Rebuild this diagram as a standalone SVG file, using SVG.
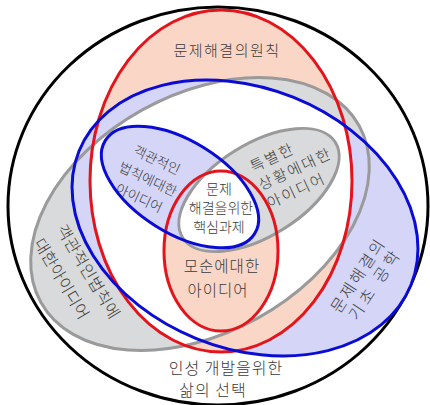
<svg xmlns="http://www.w3.org/2000/svg" width="430" height="405" viewBox="0 0 430 405">
<style>
.t{font-family:"Noto Sans CJK KR","Noto Sans CJK SC",sans-serif;font-weight:300;fill:#3a3a3a}
.red{fill:none;stroke:#e3141b;stroke-width:3}
.blue{fill:none;stroke:#0b0bd6;stroke-width:3}
.gray{fill:none;stroke:#9a9a9a;stroke-width:3}
.pe{fill:#fad6c6}.la{fill:#d5d5f7}.gr{fill:#d9dadb}.wh{fill:#fff}
</style>
<defs>
<ellipse id="eR" cx="221" cy="181" rx="131" ry="171"/>
<ellipse id="eB" cx="245" cy="218" rx="179" ry="130" transform="rotate(22 245 218)"/>
<ellipse id="eG" cx="200" cy="214" rx="182" ry="119" transform="rotate(-29 200 214)"/>
<ellipse id="sB" cx="180" cy="187" rx="88" ry="46" transform="rotate(32 180 187)"/>
<ellipse id="sG" cx="259" cy="190" rx="90" ry="46" transform="rotate(-32 259 190)"/>
<ellipse id="sR" cx="221" cy="251" rx="57" ry="80"/>
<clipPath id="cR"><ellipse cx="221" cy="181" rx="131" ry="171"/></clipPath>
<clipPath id="cB"><ellipse cx="245" cy="218" rx="179" ry="130" transform="rotate(22 245 218)"/></clipPath>
<clipPath id="cLow"><rect x="0" y="200" width="430" height="205"/></clipPath>
<clipPath id="cSB"><ellipse cx="180" cy="187" rx="88" ry="46" transform="rotate(32 180 187)"/></clipPath>
</defs>
<rect width="430" height="405" fill="#fff"/>
<g id="outer">
<ellipse cx="218" cy="206" rx="210" ry="199" fill="#fff" stroke="#000" stroke-width="3"/>
</g>
<g id="fills">
<use href="#eR" class="pe"/>
<use href="#eG" class="gr"/>
<use href="#eB" class="la"/>
<g clip-path="url(#cB)"><g clip-path="url(#cLow)"><use href="#eR" class="pe"/></g></g>
<g clip-path="url(#cR)"><g clip-path="url(#cB)"><use href="#eG" class="wh"/></g></g>
<g clip-path="url(#cR)"><g clip-path="url(#cLow)"><use href="#eG" class="wh"/></g></g>
<use href="#sR" class="pe"/>
<use href="#sG" class="gr"/>
<use href="#sB" class="la"/>
<g clip-path="url(#cSB)"><use href="#sG" class="wh"/></g>
</g>
<g id="connectors"></g>
<g id="big-gray">
<use href="#eG" class="gray"/>
<text class="t" font-size="16" letter-spacing="0.5" transform="translate(61,226) rotate(59)"><tspan x="0" y="6">객관적인법칙에</tspan><tspan x="0" y="32.5">대한아이디어</tspan></text>
</g>
<g id="big-red">
<use href="#eR" class="red"/>
<text class="t" font-size="15" letter-spacing="1.5" x="227" y="56" text-anchor="middle">문제해결의원칙</text>
</g>
<g id="big-blue">
<use href="#eB" class="blue"/>
<text class="t" font-size="16" letter-spacing="2.5" text-anchor="middle" transform="translate(358,275) rotate(-56.7)"><tspan x="0" y="6">문제해결의</tspan><tspan x="2" y="25" letter-spacing="4">기초 공학</tspan></text>
</g>
<g id="small-gray">
<use href="#sG" class="gray"/>
<text class="t" font-size="15" letter-spacing="2" transform="translate(259.5,186) rotate(-25)"><tspan x="0" y="-15">특별한</tspan><tspan x="0" y="5">상황에대한</tspan><tspan x="0" y="25">아이디어</tspan></text>
</g>
<g id="small-red">
<use href="#sR" class="red"/>
<text class="t" font-size="15.5" letter-spacing="1" text-anchor="middle"><tspan x="222" y="272">모순에대한</tspan><tspan x="218" y="296">아이디어</tspan></text>
</g>
<g id="small-blue">
<use href="#sB" class="blue"/>
<text class="t" font-size="13.5" text-anchor="middle" transform="translate(148,179) rotate(25)"><tspan x="0" y="-16">객관적인</tspan><tspan x="0" y="5">법칙에대한</tspan><tspan x="0" y="26">아이디어</tspan></text>
</g>
<g id="core">
<text class="t" font-size="14" text-anchor="middle"><tspan x="219" y="194">문제</tspan><tspan x="221" y="213">해결을위한</tspan><tspan x="219" y="232">핵심과제</tspan></text>
</g>
<g id="outer-label">
<text class="t" font-size="16" letter-spacing="1" text-anchor="middle"><tspan x="226" y="374">인성 개발을위한</tspan><tspan x="213" y="396">삶의 선택</tspan></text>
</g>
</svg>
